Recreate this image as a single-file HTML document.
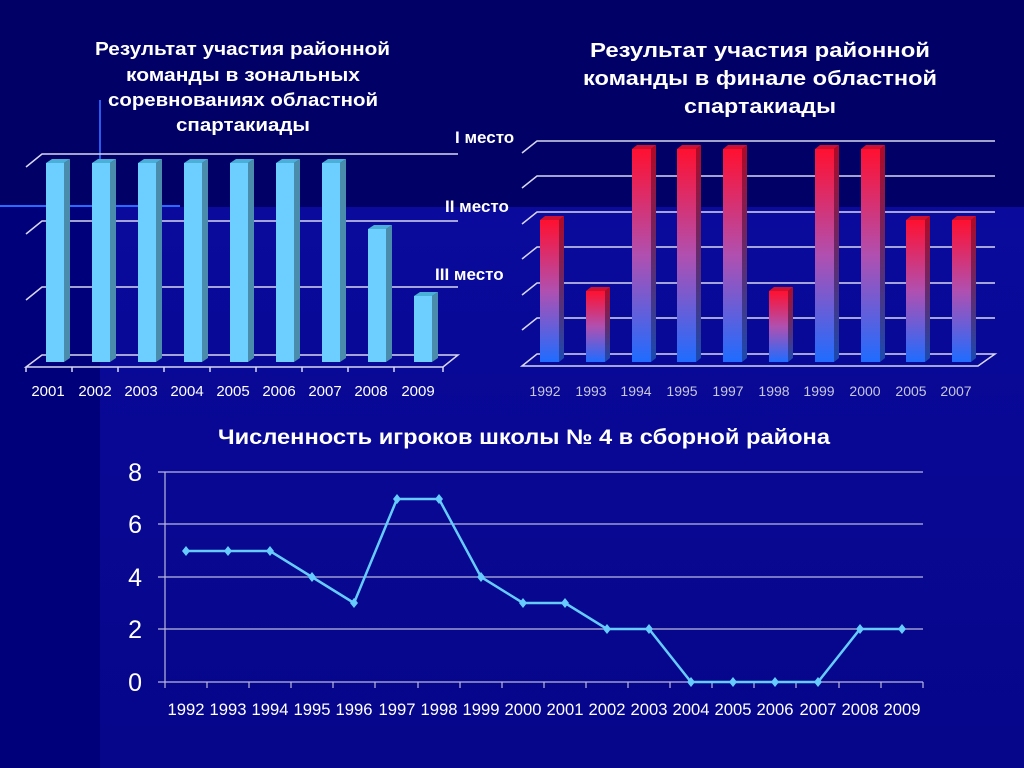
<!DOCTYPE html>
<html><head><meta charset="utf-8"><style>
html,body{margin:0;padding:0;width:1024px;height:768px;overflow:hidden;background:#000066}
svg{display:block;font-family:"Liberation Sans",sans-serif}
</style></head><body>
<svg width="1024" height="768" viewBox="0 0 1024 768" xmlns="http://www.w3.org/2000/svg">
<defs>
<linearGradient id="bg" x1="0" y1="0" x2="0" y2="1"><stop offset="0" stop-color="#0a0a9c"/><stop offset="1" stop-color="#06068a"/></linearGradient>
<linearGradient id="rb" x1="0" y1="0" x2="0" y2="1"><stop offset="0" stop-color="#ff1030"/><stop offset="0.5" stop-color="#b050b0"/><stop offset="1" stop-color="#1f6cff"/></linearGradient>
<linearGradient id="rs" x1="0" y1="0" x2="0" y2="1"><stop offset="0" stop-color="#b00a25"/><stop offset="1" stop-color="#1a4ab0"/></linearGradient>
</defs>
<rect width="1024" height="768" fill="#000066"/>
<rect x="100" y="207" width="924" height="561" fill="url(#bg)"/>
<rect x="0" y="207" width="100" height="561" fill="#00007a"/>
<line x1="0" y1="206" x2="180" y2="206" stroke="#2a6aff" stroke-width="2"/>
<line x1="100" y1="100" x2="100" y2="206" stroke="#2a5aee" stroke-width="2"/>

<!-- left title -->
<g fill="#fff" font-weight="bold" font-size="18" lengthAdjust="spacingAndGlyphs">
<text x="95" y="55" textLength="295" lengthAdjust="spacingAndGlyphs">Результат участия районной</text>
<text x="126" y="81" textLength="234" lengthAdjust="spacingAndGlyphs">команды в зональных</text>
<text x="108" y="106" textLength="270" lengthAdjust="spacingAndGlyphs">соревнованиях областной</text>
<text x="176" y="131" textLength="134" lengthAdjust="spacingAndGlyphs">спартакиады</text>
</g>
<!-- left chart grid -->
<g stroke="#d8d8f0" stroke-width="1.5" fill="none">
<path d="M26 167 L42 154 L458 154"/>
<path d="M26 234 L42 221 L458 221"/>
<path d="M26 300 L42 287 L458 287"/>
<path d="M26 367 L42 355 L458 355 L443 367 Z"/>
<path d="M26 367 V372 M72 367 V372 M118 367 V372 M164 367 V372 M210 367 V372 M256 367 V372 M302 367 V372 M348 367 V372 M394 367 V372 M443 367 V372"/>
</g>
<g>
<g transform="translate(46,0)"><rect x="0" y="163" width="18" height="199" fill="#6ccfff"/><path d="M18 163 L24 159 L24 358 L18 362Z" fill="#4a8cac"/><path d="M0 163 L6 159 L24 159 L18 163Z" fill="#4ab0d8"/></g>
<g transform="translate(92,0)"><rect x="0" y="163" width="18" height="199" fill="#6ccfff"/><path d="M18 163 L24 159 L24 358 L18 362Z" fill="#4a8cac"/><path d="M0 163 L6 159 L24 159 L18 163Z" fill="#4ab0d8"/></g>
<g transform="translate(138,0)"><rect x="0" y="163" width="18" height="199" fill="#6ccfff"/><path d="M18 163 L24 159 L24 358 L18 362Z" fill="#4a8cac"/><path d="M0 163 L6 159 L24 159 L18 163Z" fill="#4ab0d8"/></g>
<g transform="translate(184,0)"><rect x="0" y="163" width="18" height="199" fill="#6ccfff"/><path d="M18 163 L24 159 L24 358 L18 362Z" fill="#4a8cac"/><path d="M0 163 L6 159 L24 159 L18 163Z" fill="#4ab0d8"/></g>
<g transform="translate(230,0)"><rect x="0" y="163" width="18" height="199" fill="#6ccfff"/><path d="M18 163 L24 159 L24 358 L18 362Z" fill="#4a8cac"/><path d="M0 163 L6 159 L24 159 L18 163Z" fill="#4ab0d8"/></g>
<g transform="translate(276,0)"><rect x="0" y="163" width="18" height="199" fill="#6ccfff"/><path d="M18 163 L24 159 L24 358 L18 362Z" fill="#4a8cac"/><path d="M0 163 L6 159 L24 159 L18 163Z" fill="#4ab0d8"/></g>
<g transform="translate(322,0)"><rect x="0" y="163" width="18" height="199" fill="#6ccfff"/><path d="M18 163 L24 159 L24 358 L18 362Z" fill="#4a8cac"/><path d="M0 163 L6 159 L24 159 L18 163Z" fill="#4ab0d8"/></g>
<g transform="translate(368,0)"><rect x="0" y="229" width="18" height="133" fill="#6ccfff"/><path d="M18 229 L24 225 L24 358 L18 362Z" fill="#4a8cac"/><path d="M0 229 L6 225 L24 225 L18 229Z" fill="#4ab0d8"/></g>
<g transform="translate(414,0)"><rect x="0" y="296" width="18" height="66" fill="#6ccfff"/><path d="M18 296 L24 292 L24 358 L18 362Z" fill="#4a8cac"/><path d="M0 296 L6 292 L24 292 L18 296Z" fill="#4ab0d8"/></g>
</g>
<g fill="#fff" font-size="15" text-anchor="middle">
<text x="48" y="396">2001</text><text x="95" y="396">2002</text><text x="141" y="396">2003</text><text x="187" y="396">2004</text><text x="233" y="396">2005</text><text x="279" y="396">2006</text><text x="325" y="396">2007</text><text x="371" y="396">2008</text><text x="418" y="396">2009</text>
</g>

<!-- right title -->
<g fill="#fff" font-weight="bold" font-size="20">
<text x="590" y="57" textLength="340" lengthAdjust="spacingAndGlyphs">Результат участия районной</text>
<text x="583" y="85" textLength="354" lengthAdjust="spacingAndGlyphs">команды в финале областной</text>
<text x="684" y="113" textLength="152" lengthAdjust="spacingAndGlyphs">спартакиады</text>
</g>
<g fill="#fff" font-weight="bold" font-size="17">
<text x="455" y="143">I место</text>
<text x="445" y="212">II место</text>
<text x="435" y="280">III место</text>
</g>
<g stroke="#d8d8f0" stroke-width="1.5" fill="none">
<path d="M522 153 L537 141 L995 141"/>
<path d="M522 188 L537 176 L995 176"/>
<path d="M522 224 L537 212 L995 212"/>
<path d="M522 259 L537 247 L995 247"/>
<path d="M522 295 L537 283 L995 283"/>
<path d="M522 330 L537 318 L995 318"/>
<path d="M522 366 L537 354 L995 354 L978 366 Z"/>
</g>
<g>
<g transform="translate(540,0)"><rect y="220" width="19" height="142" fill="url(#rb)"/><path d="M19 220 L24 216 L24 358 L19 362Z" fill="url(#rs)"/><path d="M0 220 L5 216 L24 216 L19 220Z" fill="#d01030"/></g>
<g transform="translate(586,0)"><rect y="291" width="19" height="71" fill="url(#rb)"/><path d="M19 291 L24 287 L24 358 L19 362Z" fill="url(#rs)"/><path d="M0 291 L5 287 L24 287 L19 291Z" fill="#d01030"/></g>
<g transform="translate(632,0)"><rect y="149" width="19" height="213" fill="url(#rb)"/><path d="M19 149 L24 145 L24 358 L19 362Z" fill="url(#rs)"/><path d="M0 149 L5 145 L24 145 L19 149Z" fill="#d01030"/></g>
<g transform="translate(677,0)"><rect y="149" width="19" height="213" fill="url(#rb)"/><path d="M19 149 L24 145 L24 358 L19 362Z" fill="url(#rs)"/><path d="M0 149 L5 145 L24 145 L19 149Z" fill="#d01030"/></g>
<g transform="translate(723,0)"><rect y="149" width="19" height="213" fill="url(#rb)"/><path d="M19 149 L24 145 L24 358 L19 362Z" fill="url(#rs)"/><path d="M0 149 L5 145 L24 145 L19 149Z" fill="#d01030"/></g>
<g transform="translate(769,0)"><rect y="291" width="19" height="71" fill="url(#rb)"/><path d="M19 291 L24 287 L24 358 L19 362Z" fill="url(#rs)"/><path d="M0 291 L5 287 L24 287 L19 291Z" fill="#d01030"/></g>
<g transform="translate(815,0)"><rect y="149" width="19" height="213" fill="url(#rb)"/><path d="M19 149 L24 145 L24 358 L19 362Z" fill="url(#rs)"/><path d="M0 149 L5 145 L24 145 L19 149Z" fill="#d01030"/></g>
<g transform="translate(861,0)"><rect y="149" width="19" height="213" fill="url(#rb)"/><path d="M19 149 L24 145 L24 358 L19 362Z" fill="url(#rs)"/><path d="M0 149 L5 145 L24 145 L19 149Z" fill="#d01030"/></g>
<g transform="translate(906,0)"><rect y="220" width="19" height="142" fill="url(#rb)"/><path d="M19 220 L24 216 L24 358 L19 362Z" fill="url(#rs)"/><path d="M0 220 L5 216 L24 216 L19 220Z" fill="#d01030"/></g>
<g transform="translate(952,0)"><rect y="220" width="19" height="142" fill="url(#rb)"/><path d="M19 220 L24 216 L24 358 L19 362Z" fill="url(#rs)"/><path d="M0 220 L5 216 L24 216 L19 220Z" fill="#d01030"/></g>
</g>
<g fill="#c8c8e0" font-size="14" text-anchor="middle">
<text x="545" y="396">1992</text><text x="591" y="396">1993</text><text x="636" y="396">1994</text><text x="682" y="396">1995</text><text x="728" y="396">1997</text><text x="774" y="396">1998</text><text x="819" y="396">1999</text><text x="865" y="396">2000</text><text x="911" y="396">2005</text><text x="956" y="396">2007</text>
</g>

<!-- line chart -->
<text x="218" y="444" fill="#fff" font-weight="bold" font-size="21" textLength="612" lengthAdjust="spacingAndGlyphs">Численность игроков школы № 4 в сборной района</text>
<g stroke="#b8b8e0" stroke-width="1.2" fill="none">
<line x1="158" y1="472" x2="923" y2="472"/>
<line x1="158" y1="524" x2="923" y2="524"/>
<line x1="158" y1="577" x2="923" y2="577"/>
<line x1="158" y1="629" x2="923" y2="629"/>
<line x1="158" y1="682" x2="923" y2="682"/>
<line x1="165" y1="472" x2="165" y2="682"/>
<path d="M165 682v6M207 682v6M249 682v6M291 682v6M333 682v6M375 682v6M418 682v6M460 682v6M502 682v6M544 682v6M586 682v6M628 682v6M670 682v6M712 682v6M754 682v6M796 682v6M839 682v6M881 682v6M923 682v6"/>
</g>
<g fill="#fff" font-size="25" text-anchor="end">
<text x="142" y="481">8</text><text x="142" y="533">6</text><text x="142" y="586">4</text><text x="142" y="638">2</text><text x="142" y="691">0</text>
</g>
<polyline fill="none" stroke="#66ccff" stroke-width="2.5" points="186,551 228,551 270,551 312,577 354,603 397,499 439,499 481,577 523,603 565,603 607,629 649,629 691,682 733,682 775,682 818,682 860,629 902,629"/>
<g fill="#66ccff">
<path d="M186 546l4 5-4 5-4-5z M228 546l4 5-4 5-4-5z M270 546l4 5-4 5-4-5z M312 572l4 5-4 5-4-5z M354 598l4 5-4 5-4-5z M397 494l4 5-4 5-4-5z M439 494l4 5-4 5-4-5z M481 572l4 5-4 5-4-5z M523 598l4 5-4 5-4-5z M565 598l4 5-4 5-4-5z M607 624l4 5-4 5-4-5z M649 624l4 5-4 5-4-5z M691 677l4 5-4 5-4-5z M733 677l4 5-4 5-4-5z M775 677l4 5-4 5-4-5z M818 677l4 5-4 5-4-5z M860 624l4 5-4 5-4-5z M902 624l4 5-4 5-4-5z"/>
</g>
<g fill="#fff" font-size="17" text-anchor="middle">
<text x="186" y="715" textLength="37" lengthAdjust="spacingAndGlyphs">1992</text><text x="228" y="715" textLength="37" lengthAdjust="spacingAndGlyphs">1993</text><text x="270" y="715" textLength="37" lengthAdjust="spacingAndGlyphs">1994</text><text x="312" y="715" textLength="37" lengthAdjust="spacingAndGlyphs">1995</text><text x="354" y="715" textLength="37" lengthAdjust="spacingAndGlyphs">1996</text><text x="397" y="715" textLength="37" lengthAdjust="spacingAndGlyphs">1997</text><text x="439" y="715" textLength="37" lengthAdjust="spacingAndGlyphs">1998</text><text x="481" y="715" textLength="37" lengthAdjust="spacingAndGlyphs">1999</text><text x="523" y="715" textLength="37" lengthAdjust="spacingAndGlyphs">2000</text><text x="565" y="715" textLength="37" lengthAdjust="spacingAndGlyphs">2001</text><text x="607" y="715" textLength="37" lengthAdjust="spacingAndGlyphs">2002</text><text x="649" y="715" textLength="37" lengthAdjust="spacingAndGlyphs">2003</text><text x="691" y="715" textLength="37" lengthAdjust="spacingAndGlyphs">2004</text><text x="733" y="715" textLength="37" lengthAdjust="spacingAndGlyphs">2005</text><text x="775" y="715" textLength="37" lengthAdjust="spacingAndGlyphs">2006</text><text x="818" y="715" textLength="37" lengthAdjust="spacingAndGlyphs">2007</text><text x="860" y="715" textLength="37" lengthAdjust="spacingAndGlyphs">2008</text><text x="902" y="715" textLength="37" lengthAdjust="spacingAndGlyphs">2009</text>
</g>
</svg>
</body></html>
